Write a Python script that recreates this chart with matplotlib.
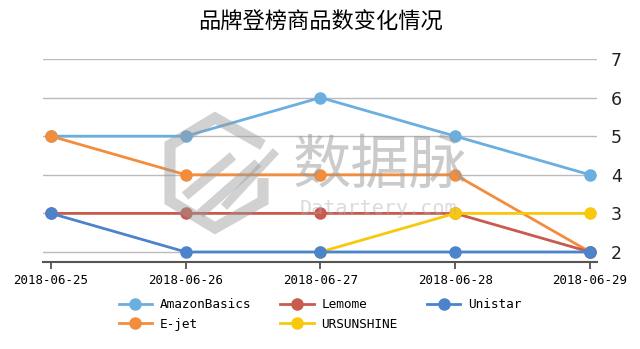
import numpy as np
import matplotlib
matplotlib.use("Agg")
import matplotlib.pyplot as plt
from matplotlib.lines import Line2D

# Data
dates = ["2018-06-25", "2018-06-26", "2018-06-27", "2018-06-28", "2018-06-29"]
amazonbasics = [5, 5, 6, 5, 4]
ejet = [5, 4, 4, 4, 2]
lemome = [3, 3, 3, 3, 2]
ursunshine = [np.nan, np.nan, 2, 3, 3]
unistar = [3, 2, 2, 2, 2]

series = [
    ("AmazonBasics", amazonbasics, "#6aafe0"),
    ("E-jet", ejet, "#f28d3e"),
    ("Lemome", lemome, "#c85b4d"),
    ("URSUNSHINE", ursunshine, "#f8c80c"),
    ("Unistar", unistar, "#4c84cc"),
]

W, H = 640, 349
fig = plt.figure(figsize=(6.4, 3.49), dpi=100)
ax = fig.add_axes([43/W, 1 - 262/H, (597 - 43)/W, (262 - 59)/H])

x = np.arange(len(dates))
for name, vals, col in series:
    ax.plot(x, vals, color=col, lw=2, marker="o", ms=8, label=name, zorder=3)

ax.set_xlim(-0.0594, 4.052)
ax.set_ylim(1.74, 7.0)
ax.set_yticks([2, 3, 4, 5, 6, 7])
ax.yaxis.tick_right()
ax.tick_params(axis="y", length=0, labelsize=12.5, pad=10, labelcolor="#222222")
ax.grid(axis="y", color="#bbbbbb", lw=1)
ax.set_axisbelow(True)
ax.set_xticks(x)
ax.set_xticklabels(dates, family="DejaVu Sans Mono", fontsize=9)
ax.tick_params(axis="x", length=5, width=1.2, color="#444444", pad=4)
for s in ["top", "right", "left"]:
    ax.spines[s].set_visible(False)
ax.spines["bottom"].set_color("#555555")
ax.spines["bottom"].set_linewidth(1.5)

fig.text(0.5, 1 - 22/H, "品牌登榜商品数变化情况", ha="center", va="center",
         family="Noto Sans CJK SC", fontsize=16)

fig.legend(loc="center", bbox_to_anchor=(320/W, 1 - 314.5/H), ncol=3,
           frameon=False, prop={"family": "DejaVu Sans Mono", "size": 9.2},
           columnspacing=2.3, handlelength=2.6, labelspacing=0.5, handletextpad=0.6)

# watermark (logo + text)
def px_line(xs, ys, lw):
    fig.add_artist(Line2D([v / W for v in xs], [1 - v / H for v in ys],
                          transform=fig.transFigure, color="#9a9a9a", lw=lw,
                          alpha=0.45, solid_joinstyle="miter", solid_capstyle="butt",
                          zorder=10))

px_line([263, 215, 170, 170, 215, 263, 263], [145, 118, 145, 201, 228, 201, 178], 8)
px_line([185, 233], [196, 156], 7)
px_line([200, 258], [214, 163], 7)
px_line([224, 276], [207, 151], 6)

fig.text(380/W, 1 - 166/H, "数据脉", ha="center", va="center",
         family="Noto Sans CJK SC", fontsize=42, color="#999999", alpha=0.5, zorder=10)
fig.text(378/W, 1 - 209/H, "Datartery.com", ha="center", va="center",
         family="DejaVu Sans Mono", fontsize=14.5, color="#b0b0b0", alpha=0.45, zorder=10)

fig.savefig("out.png", dpi=100)
